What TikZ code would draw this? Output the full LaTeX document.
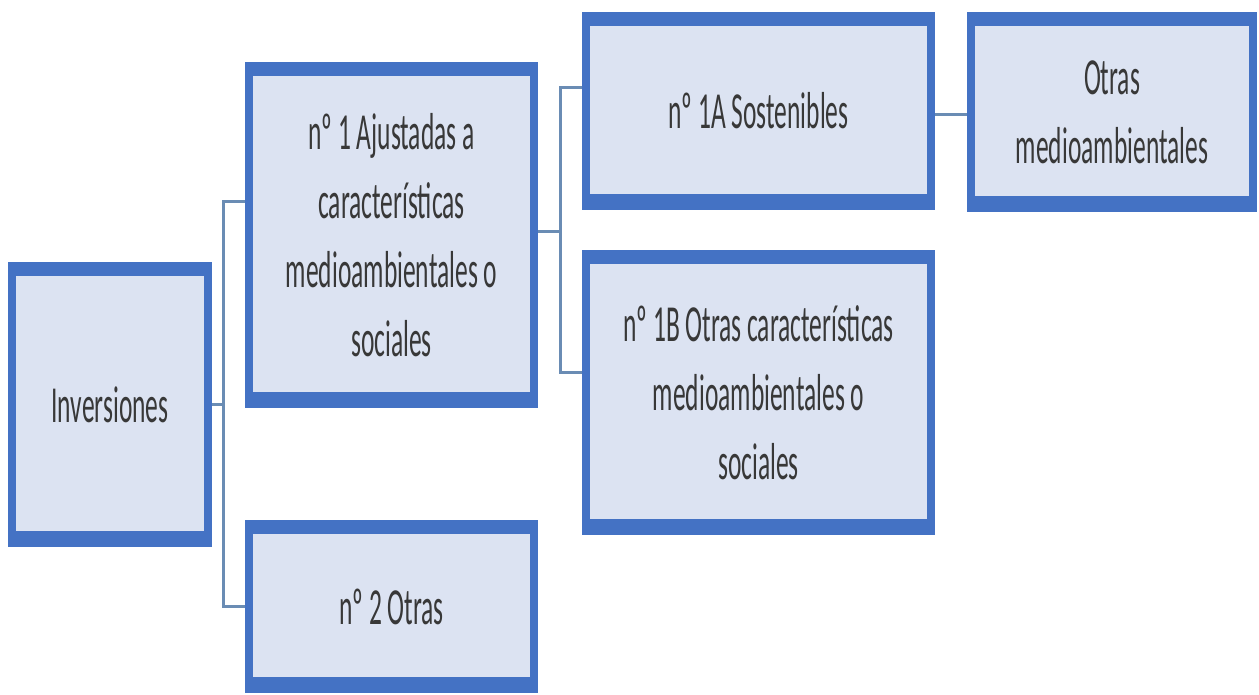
\documentclass[tikz,border=0pt]{standalone}
\usepackage{fontspec}
\setmainfont{Carlito}[FakeStretch=0.49]
\definecolor{bordc}{HTML}{4472C4}
\definecolor{fillc}{HTML}{DCE3F2}
\definecolor{connc}{HTML}{6A8CB4}
\definecolor{txtc}{HTML}{383838}
\tikzset{
  box/.style={rectangle, fill=bordc, inner sep=0pt, align=center, text=txtc,
    font=\fontsize{52}{69}\selectfont,
    path picture={\fill[fillc] ([xshift=8pt,yshift=16pt]path picture bounding box.south west) rectangle ([xshift=-8pt,yshift=-14pt]path picture bounding box.north east);}},
  conn/.style={draw=connc, line width=3pt}
}
\begin{document}
\begin{tikzpicture}[x=1pt,y=1pt]
\fill[white] (0,0) rectangle (1259,695);
\useasboundingbox (0,0) rectangle (1259,695);
\node[box, minimum width=204pt, minimum height=285pt] (inv) at (110,290.5) {Inversiones};
\node[box, minimum width=293pt, minimum height=346pt] (n1) at (391.5,460) {nº 1 Ajustadas a\\características\\medioambientales o\\sociales};
\node[box, minimum width=293pt, minimum height=173pt] (n2) at (391.5,88.5) {nº 2 Otras};
\node[box, minimum width=353pt, minimum height=198pt] (n1A) at (758.5,584) {nº 1A Sostenibles};
\node[box, minimum width=353pt, minimum height=285pt] (n1B) at (758.5,302.5) {nº 1B Otras características\\medioambientales o\\sociales};
\node[box, minimum width=290pt, minimum height=200pt] (om) at (1112,583) {Otras\\medioambientales};
\coordinate (t1) at (223,493);
\coordinate (t2) at (223,88);
\coordinate (u0) at (560,463);
\coordinate (u1) at (560,607);
\coordinate (u2) at (560,322);
\coordinate (c) at (950,580);
\draw[conn] (inv.east) -- (inv.east -| t1);
\draw[conn] (n1.west |- t1) -- (t1) -- (t2) -- (n2.west |- t2);
\draw[conn] (n1.east |- u0) -- (u0);
\draw[conn] (n1A.west |- u1) -- (u1) -- (u2) -- (n1B.west |- u2);
\draw[conn] (n1A.east |- c) -- (om.west |- c);
\end{tikzpicture}
\end{document}
